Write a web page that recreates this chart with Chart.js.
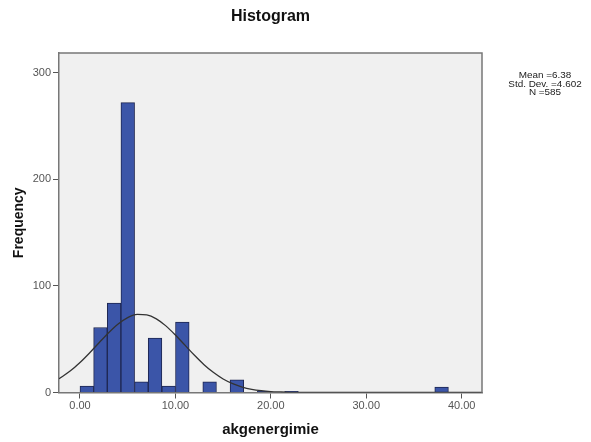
<!DOCTYPE html>
<html>
<head>
<meta charset="utf-8">
<title>Histogram</title>
<script src="https://cdn.jsdelivr.net/npm/chart.js@4/dist/chart.umd.min.js"></script>
<style>
  html, body { margin: 0; padding: 0; background: #ffffff; }
  #chartHistograma { display: block; }
</style>
</head>
<body>
<canvas id="chartHistograma" width="591" height="442"></canvas>
<script>
// centros de los intervalos con frecuencia (ancho de intervalo ~1.43)
const centrosBarras = [0.715, 2.145, 3.575, 5.005, 6.435, 7.865, 9.295, 10.725, 13.585, 16.445, 19.305, 22.165, 37.895];
const frecuencias = [6, 61, 84, 272, 10, 51, 6, 66, 10, 12, 1, 1, 5];

// curva normal
const curvaX = [-2.2, -1, 0, 1, 2, 3, 4, 5, 6, 7, 8, 9, 10, 11, 12, 13, 14, 15, 16, 17, 18, 19, 20, 21, 22, 24, 26, 42.2];
const curvaY = [12.9, 20.3, 28.1, 37.1, 46.7, 56.1, 64.3, 70.3, 73.3, 72.8, 69.1, 62.5, 53.9, 44.4, 34.9, 26.1, 18.7, 12.7, 8.3, 5.1, 3.0, 1.7, 0.9, 0.5, 0.2, 0.05, 0, 0];

const ticksX = [0, 10, 20, 30, 40];
const ticksY = [0, 100, 200, 300];

const titulo = "Histogram";
const tituloX = "akgenergimie";
const tituloY = "Frequency";
const estadisticas = ["Mean =6.38", "Std. Dev. =4.602", "N =585"];

const fuente = '"Liberation Sans", Arial, sans-serif';

const fondoYTextos = {
  id: "fondoYTextos",
  beforeDraw(chart) {
    const { ctx, chartArea } = chart;
    ctx.save();
    ctx.fillStyle = "#f0f0f0";
    ctx.fillRect(chartArea.left, chartArea.top, chartArea.right - chartArea.left, chartArea.bottom - chartArea.top);
    ctx.restore();
  },
  afterDraw(chart) {
    const { ctx, chartArea } = chart;
    ctx.save();
    // marco superior y derecho
    ctx.strokeStyle = "#777777";
    ctx.lineWidth = 1.5;
    ctx.beginPath();
    ctx.moveTo(chartArea.left, chartArea.top);
    ctx.lineTo(chartArea.right, chartArea.top);
    ctx.lineTo(chartArea.right, chartArea.bottom);
    ctx.stroke();

    ctx.fillStyle = "#111111";
    ctx.textAlign = "center";
    ctx.textBaseline = "middle";
    ctx.font = "bold 16px " + fuente;
    ctx.fillText(titulo, (chartArea.left + chartArea.right) / 2, 17);

    // cuadro de estadisticas, algo ensanchado como en el original
    ctx.fillStyle = "#222222";
    ctx.font = "9px " + fuente;
    ctx.translate(545, 0);
    ctx.scale(1.1, 1);
    estadisticas.forEach((linea, i) => {
      ctx.fillText(linea, 0, 75.5 + i * 8.6);
    });
    ctx.restore();
  }
};

function graficarHistograma() {
  const canvas = document.getElementById("chartHistograma");
  if (!canvas || typeof Chart === "undefined") return;

  new Chart(canvas, {
    type: "bar",
    data: {
      datasets: [
        {
          type: "line",
          data: curvaX.map((x, i) => ({ x, y: curvaY[i] })),
          borderColor: "#333333",
          borderWidth: 1.3,
          pointRadius: 0,
          fill: false,
          tension: 0.4,
          cubicInterpolationMode: "monotone",
          order: 0
        },
        {
          type: "bar",
          data: centrosBarras.map((x, i) => ({ x, y: frecuencias[i] })),
          backgroundColor: "#3b55a8",
          borderColor: "#1e2650",
          borderWidth: 1,
          barPercentage: 1,
          categoryPercentage: 1,
          order: 1
        }
      ]
    },
    options: {
      responsive: false,
      animation: false,
      layout: { padding: { left: 0, right: 109, top: 53, bottom: 0 } },
      plugins: {
        legend: { display: false },
        tooltip: { enabled: false },
        title: { display: false }
      },
      scales: {
        x: {
          type: "linear",
          min: -2.2,
          max: 42.13,
          offset: false,
          afterBuildTicks: (scale) => { scale.ticks = ticksX.map((value) => ({ value })); },
          afterFit: (scale) => { scale.height = 49.5; },
          grid: { offset: false, drawOnChartArea: false, drawTicks: true, tickLength: 6, color: "#555555" },
          border: { display: true, color: "#777777", width: 1.5 },
          ticks: {
            padding: 1,
            color: "#555555",
            font: { family: fuente, size: 11 },
            callback: (valor) => Number(valor).toFixed(2)
          },
          title: {
            display: true,
            text: tituloX,
            color: "#111111",
            font: { family: fuente, size: 15, weight: "bold" },
            padding: { top: 0, bottom: 3 }
          }
        },
        y: {
          min: 0,
          max: 318.5,
          afterBuildTicks: (scale) => { scale.ticks = ticksY.map((value) => ({ value })); },
          afterFit: (scale) => { scale.width = 59; },
          grid: { drawOnChartArea: false, drawTicks: true, tickLength: 6, color: "#555555" },
          border: { display: true, color: "#777777", width: 1.5 },
          ticks: {
            padding: 2,
            color: "#555555",
            font: { family: fuente, size: 11 }
          },
          title: {
            display: true,
            text: tituloY,
            color: "#111111",
            font: { family: fuente, size: 14, weight: "bold" },
            padding: { top: 11, bottom: 0 }
          }
        }
      }
    },
    plugins: [fondoYTextos]
  });
}

document.addEventListener("DOMContentLoaded", graficarHistograma);
</script>
</body>
</html>
